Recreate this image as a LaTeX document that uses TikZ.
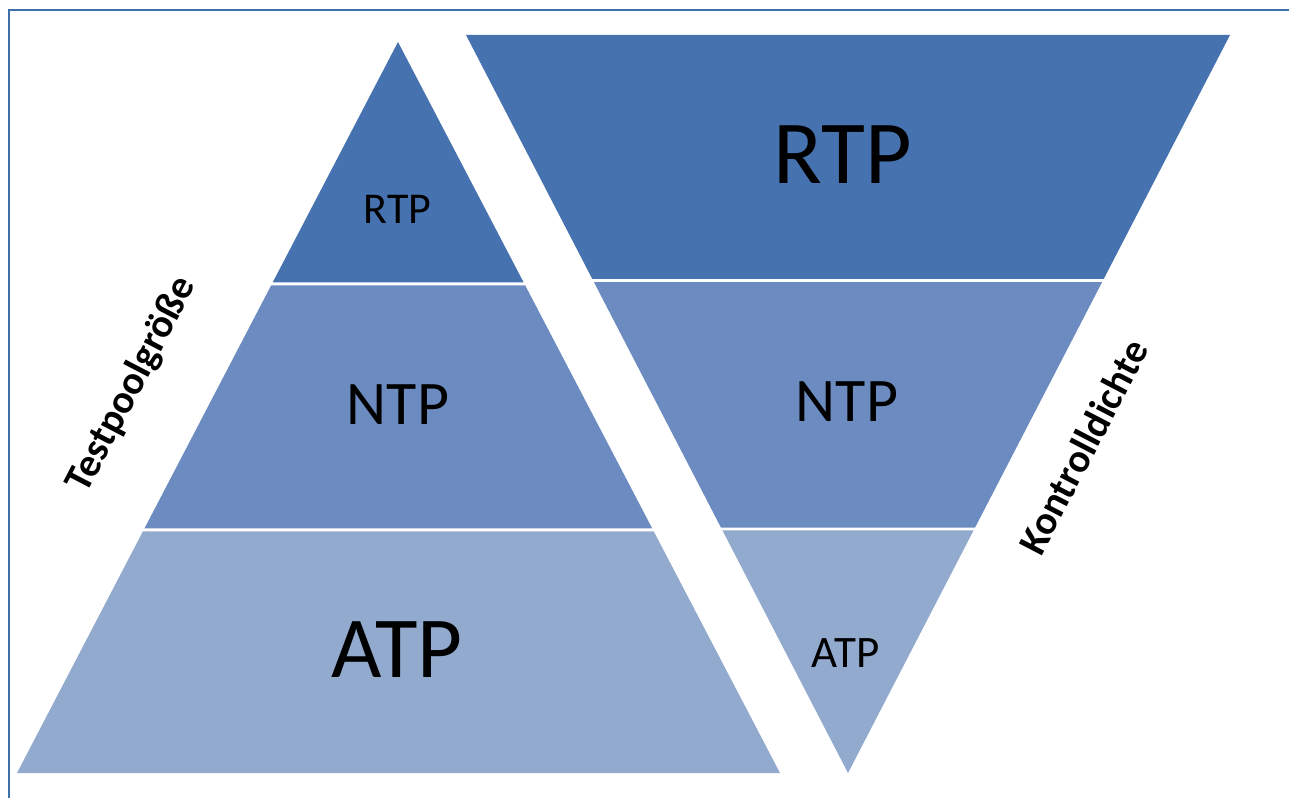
\documentclass[tikz,border=0pt]{standalone}
\usepackage{fontspec}
\setmainfont{Carlito}
\usetikzlibrary{calc}
\definecolor{cRTP}{HTML}{4673B0}
\definecolor{cNTP}{HTML}{6C8CC1}
\definecolor{cATP}{HTML}{93AACF}
\definecolor{frameblue}{HTML}{3D6FA8}
\tikzset{
  band/.style={draw=none},
  lbl/.style={inner sep=0pt, text=black},
  side/.style={inner sep=0pt, font=\bfseries\fontsize{40}{46}\selectfont, rotate=62.5}
}
\begin{document}
\begin{tikzpicture}[x=1pt,y=1pt]
\useasboundingbox (0,0) rectangle (1289,798);
\fill[white] (0,0) rectangle (1289,798);
% frame (top and left only)
\draw[frameblue, line width=2pt] (9,0) -- (9,788) -- (1289,788);
% left triangle
\coordinate (A) at (398,756);
\coordinate (BL) at (17,25);
\coordinate (BR) at (780,25);
\fill[cRTP, band] (A) -- ($(A)!0.329!(BL)$) -- ($(A)!0.329!(BR)$) -- cycle;
\fill[cNTP, band] ($(A)!0.333!(BL)$) -- ($(A)!0.6655!(BL)$) -- ($(A)!0.6655!(BR)$) -- ($(A)!0.333!(BR)$) -- cycle;
\fill[cATP, band] ($(A)!0.6696!(BL)$) -- (BL) -- (BR) -- ($(A)!0.6696!(BR)$) -- cycle;
% right inverted triangle
\coordinate (V) at (848,25);
\coordinate (TL) at (466,763);
\coordinate (TR) at (1230,763);
\fill[cRTP, band] (TL) -- (TR) -- ($(TR)!0.3306!(V)$) -- ($(TL)!0.3306!(V)$) -- cycle;
\fill[cNTP, band] ($(TL)!0.3347!(V)$) -- ($(TR)!0.3347!(V)$) -- ($(TR)!0.6674!(V)$) -- ($(TL)!0.6674!(V)$) -- cycle;
\fill[cATP, band] ($(TL)!0.6714!(V)$) -- ($(TR)!0.6714!(V)$) -- (V) -- cycle;
% labels
\node[lbl, font=\fontsize{44}{50}\selectfont] (lrtp) at (397.5,589) {RTP};
\node[lbl, font=\fontsize{62}{70}\selectfont] (lntp) at (398,393) {NTP};
\node[lbl, font=\fontsize{87}{96}\selectfont] (latp) at (397,148) {ATP};
\node[lbl, font=\fontsize{90}{100}\selectfont] (rrtp) at (843,643) {RTP};
\node[lbl, font=\fontsize{62}{70}\selectfont] (rntp) at (847,396) {NTP};
\node[lbl, font=\fontsize{45}{50}\selectfont] (ratp) at (845.5,145) {ATP};
\node[side] (tpg) at (132,413) {Testpoolgröße};
\node[side] (kd) at (1083,351) {Kontrolldichte};
\end{tikzpicture}
\end{document}
